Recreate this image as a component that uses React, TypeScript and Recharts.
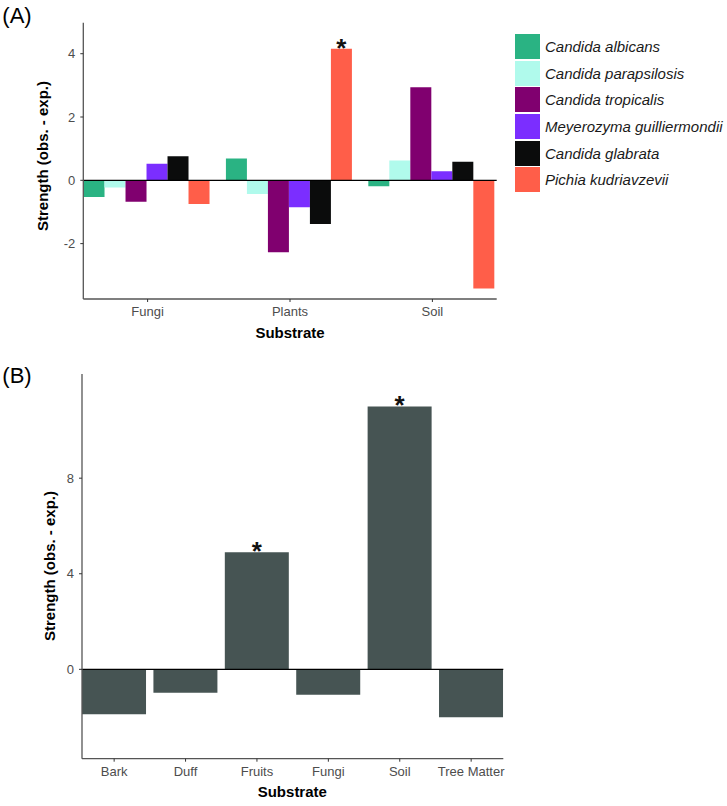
import React from 'react';
import { BarChart, Bar, XAxis, YAxis, ReferenceLine, LabelList, Legend } from 'recharts';

const FONT = '"Liberation Sans", Arial, Helvetica, sans-serif';

// ---------- Panel A data ----------
const categoriesA = ['Fungi', 'Plants', 'Soil'];
const speciesNames = [
  'Candida albicans',
  'Candida parapsilosis',
  'Candida tropicalis',
  'Meyerozyma guilliermondii',
  'Candida glabrata',
  'Pichia kudriavzevii',
];
const speciesColors = ['#2AB383', '#B0FAEC', '#80006F', '#7B2EFF', '#0B0C0C', '#FF5E49'];
const albicans = [-0.53, 0.69, -0.19];
const parapsilosis = [-0.23, -0.43, 0.63];
const tropicalis = [-0.68, -2.27, 2.94];
const guilliermondii = [0.52, -0.85, 0.29];
const glabrata = [0.76, -1.38, 0.59];
const kudriavzevii = [-0.75, 4.16, -3.42];
const sigA = ['', '*', ''];
const ticksA = [-2, 0, 2, 4];
const domainA: [number, number] = [-3.75, 4.98];

const seriesA = [albicans, parapsilosis, tropicalis, guilliermondii, glabrata, kudriavzevii];
const keysA = ['s0', 's1', 's2', 's3', 's4', 's5'];
const dataA = categoriesA.map((c, i) => {
  const row: any = { cat: c, sig: sigA[i] };
  seriesA.forEach((s, j) => (row[keysA[j]] = s[i]));
  return row;
});

// ---------- Panel B data ----------
const categoriesB = ['Bark', 'Duff', 'Fruits', 'Fungi', 'Soil', 'Tree Matter'];
const strengthB = [-1.88, -0.98, 4.9, -1.06, 11.0, -2.01];
const sigB = ['', '', '*', '', '*', ''];
const ticksB = [0, 4, 8];
const domainB: [number, number] = [-3.74, 12.36];
const colorB = '#465453';

const dataB = categoriesB.map((c, i) => ({ cat: c, v: strengthB[i], sig: sigB[i] }));

const tickStyle = { fill: '#4D4D4D', fontSize: 13, fontFamily: FONT };
const frame = '#555555';

const Star = (props: any) => {
  const { x, y, width, value } = props;
  if (!value) return null;
  return (
    <text
      x={x + width / 2}
      y={y + 8}
      textAnchor="middle"
      fontSize={26}
      fontWeight="bold"
      fontFamily={FONT}
      fill="#111"
    >
      {value}
    </text>
  );
};

const LegendA = () => (
  <div style={{ fontFamily: FONT }}>
    {speciesNames.map((n, i) => (
      <div key={n} style={{ display: 'flex', alignItems: 'center', height: 26.7 }}>
        <div style={{ width: 25, height: 25, background: speciesColors[i], marginRight: 5 }} />
        <span style={{ fontStyle: 'italic', fontSize: 15, color: '#1a1a1a', whiteSpace: 'nowrap' }}>{n}</span>
      </div>
    ))}
  </div>
);

const Title = ({ x, y, text, rotate, size, bold }: any) => (
  <div
    style={{
      position: 'absolute',
      left: x,
      top: y,
      transform: `translate(-50%, -50%)${rotate ? ' rotate(-90deg)' : ''}`,
      whiteSpace: 'nowrap',
      fontFamily: FONT,
      fontSize: size,
      fontWeight: bold ? 'bold' : 'normal',
      color: '#000',
      lineHeight: 1,
    }}
  >
    {text}
  </div>
);

export default function App() {
  return (
    <div style={{ position: 'absolute', left: 0, top: 0, width: 727, height: 806, background: '#fff' }}>
      {/* Panel A */}
      <div style={{ position: 'absolute', left: 0, top: 0 }}>
        <BarChart
          width={727}
          height={340}
          data={dataA}
          margin={{ top: 22.7, right: 230.3, bottom: 0, left: 0 }}
          barGap={0}
          barCategoryGap="5%"
        >
          <XAxis
            dataKey="cat"
            height={41}
            padding={{ left: -6.9, right: -6.9 }}
            tick={tickStyle}
            tickSize={3}
            tickMargin={5}
            axisLine={{ stroke: frame, strokeWidth: 1.3 }}
            tickLine={{ stroke: '#333' }}
          />
          <XAxis xAxisId="top" orientation="top" dataKey="cat" height={0} tick={false} tickLine={false} axisLine={{ stroke: frame, strokeWidth: 1.3 }} />
          <YAxis
            width={83.3}
            type="number"
            domain={domainA}
            ticks={ticksA}
            allowDataOverflow
            tick={tickStyle}
            tickSize={3}
            tickMargin={5}
            axisLine={{ stroke: frame, strokeWidth: 1.3 }}
            tickLine={{ stroke: '#333' }}
          />
          <YAxis yAxisId="right" orientation="right" width={0} domain={domainA} tick={false} tickLine={false} axisLine={{ stroke: frame, strokeWidth: 1.3 }} />
          <Legend
            layout="horizontal"
            verticalAlign="middle"
            align="center"
            wrapperStyle={{ left: 515, top: 33, width: 210 }}
            content={() => <LegendA />}
          />
          {keysA.map((k, j) => (
            <Bar key={k} dataKey={k} name={speciesNames[j]} fill={speciesColors[j]} isAnimationActive={false}>
              {j === 5 ? <LabelList dataKey="sig" content={<Star />} /> : null}
            </Bar>
          ))}
          <ReferenceLine y={0} stroke="#000" strokeWidth={1.3} />
        </BarChart>
      </div>
      <Title x={17} y={16} text="(A)" size={22} />
      <Title x={42.3} y={156} text="Strength (obs. - exp.)" rotate size={15} bold />
      <Title x={290} y={331.5} text="Substrate" size={15} bold />

      {/* Panel B */}
      <div style={{ position: 'absolute', left: 0, top: 360 }}>
        <BarChart
          width={520}
          height={446}
          data={dataB}
          margin={{ top: 14, right: 16.7, bottom: 0, left: 0 }}
          barCategoryGap="5%"
        >
          <XAxis
            dataKey="cat"
            height={47.3}
            padding={{ left: -3.55, right: -3.55 }}
            tick={tickStyle}
            tickSize={3}
            tickMargin={5}
            interval={0}
            axisLine={{ stroke: frame, strokeWidth: 1.3 }}
            tickLine={{ stroke: '#333' }}
          />
          <XAxis xAxisId="top" orientation="top" dataKey="cat" height={0} tick={false} tickLine={false} axisLine={{ stroke: frame, strokeWidth: 1.3 }} />
          <YAxis
            width={82}
            type="number"
            domain={domainB}
            ticks={ticksB}
            allowDataOverflow
            tick={tickStyle}
            tickSize={3}
            tickMargin={5}
            axisLine={{ stroke: frame, strokeWidth: 1.3 }}
            tickLine={{ stroke: '#333' }}
          />
          <YAxis yAxisId="right" orientation="right" width={0} domain={domainB} tick={false} tickLine={false} axisLine={{ stroke: frame, strokeWidth: 1.3 }} />
          <Bar dataKey="v" fill={colorB} isAnimationActive={false}>
            <LabelList dataKey="sig" content={<Star />} />
          </Bar>
          <ReferenceLine y={0} stroke="#000" strokeWidth={1.3} />
        </BarChart>
      </div>
      <Title x={17} y={376} text="(B)" size={22} />
      <Title x={49.3} y={566} text="Strength (obs. - exp.)" rotate size={15} bold />
      <Title x={292.3} y={791} text="Substrate" size={15} bold />
    </div>
  );
}
